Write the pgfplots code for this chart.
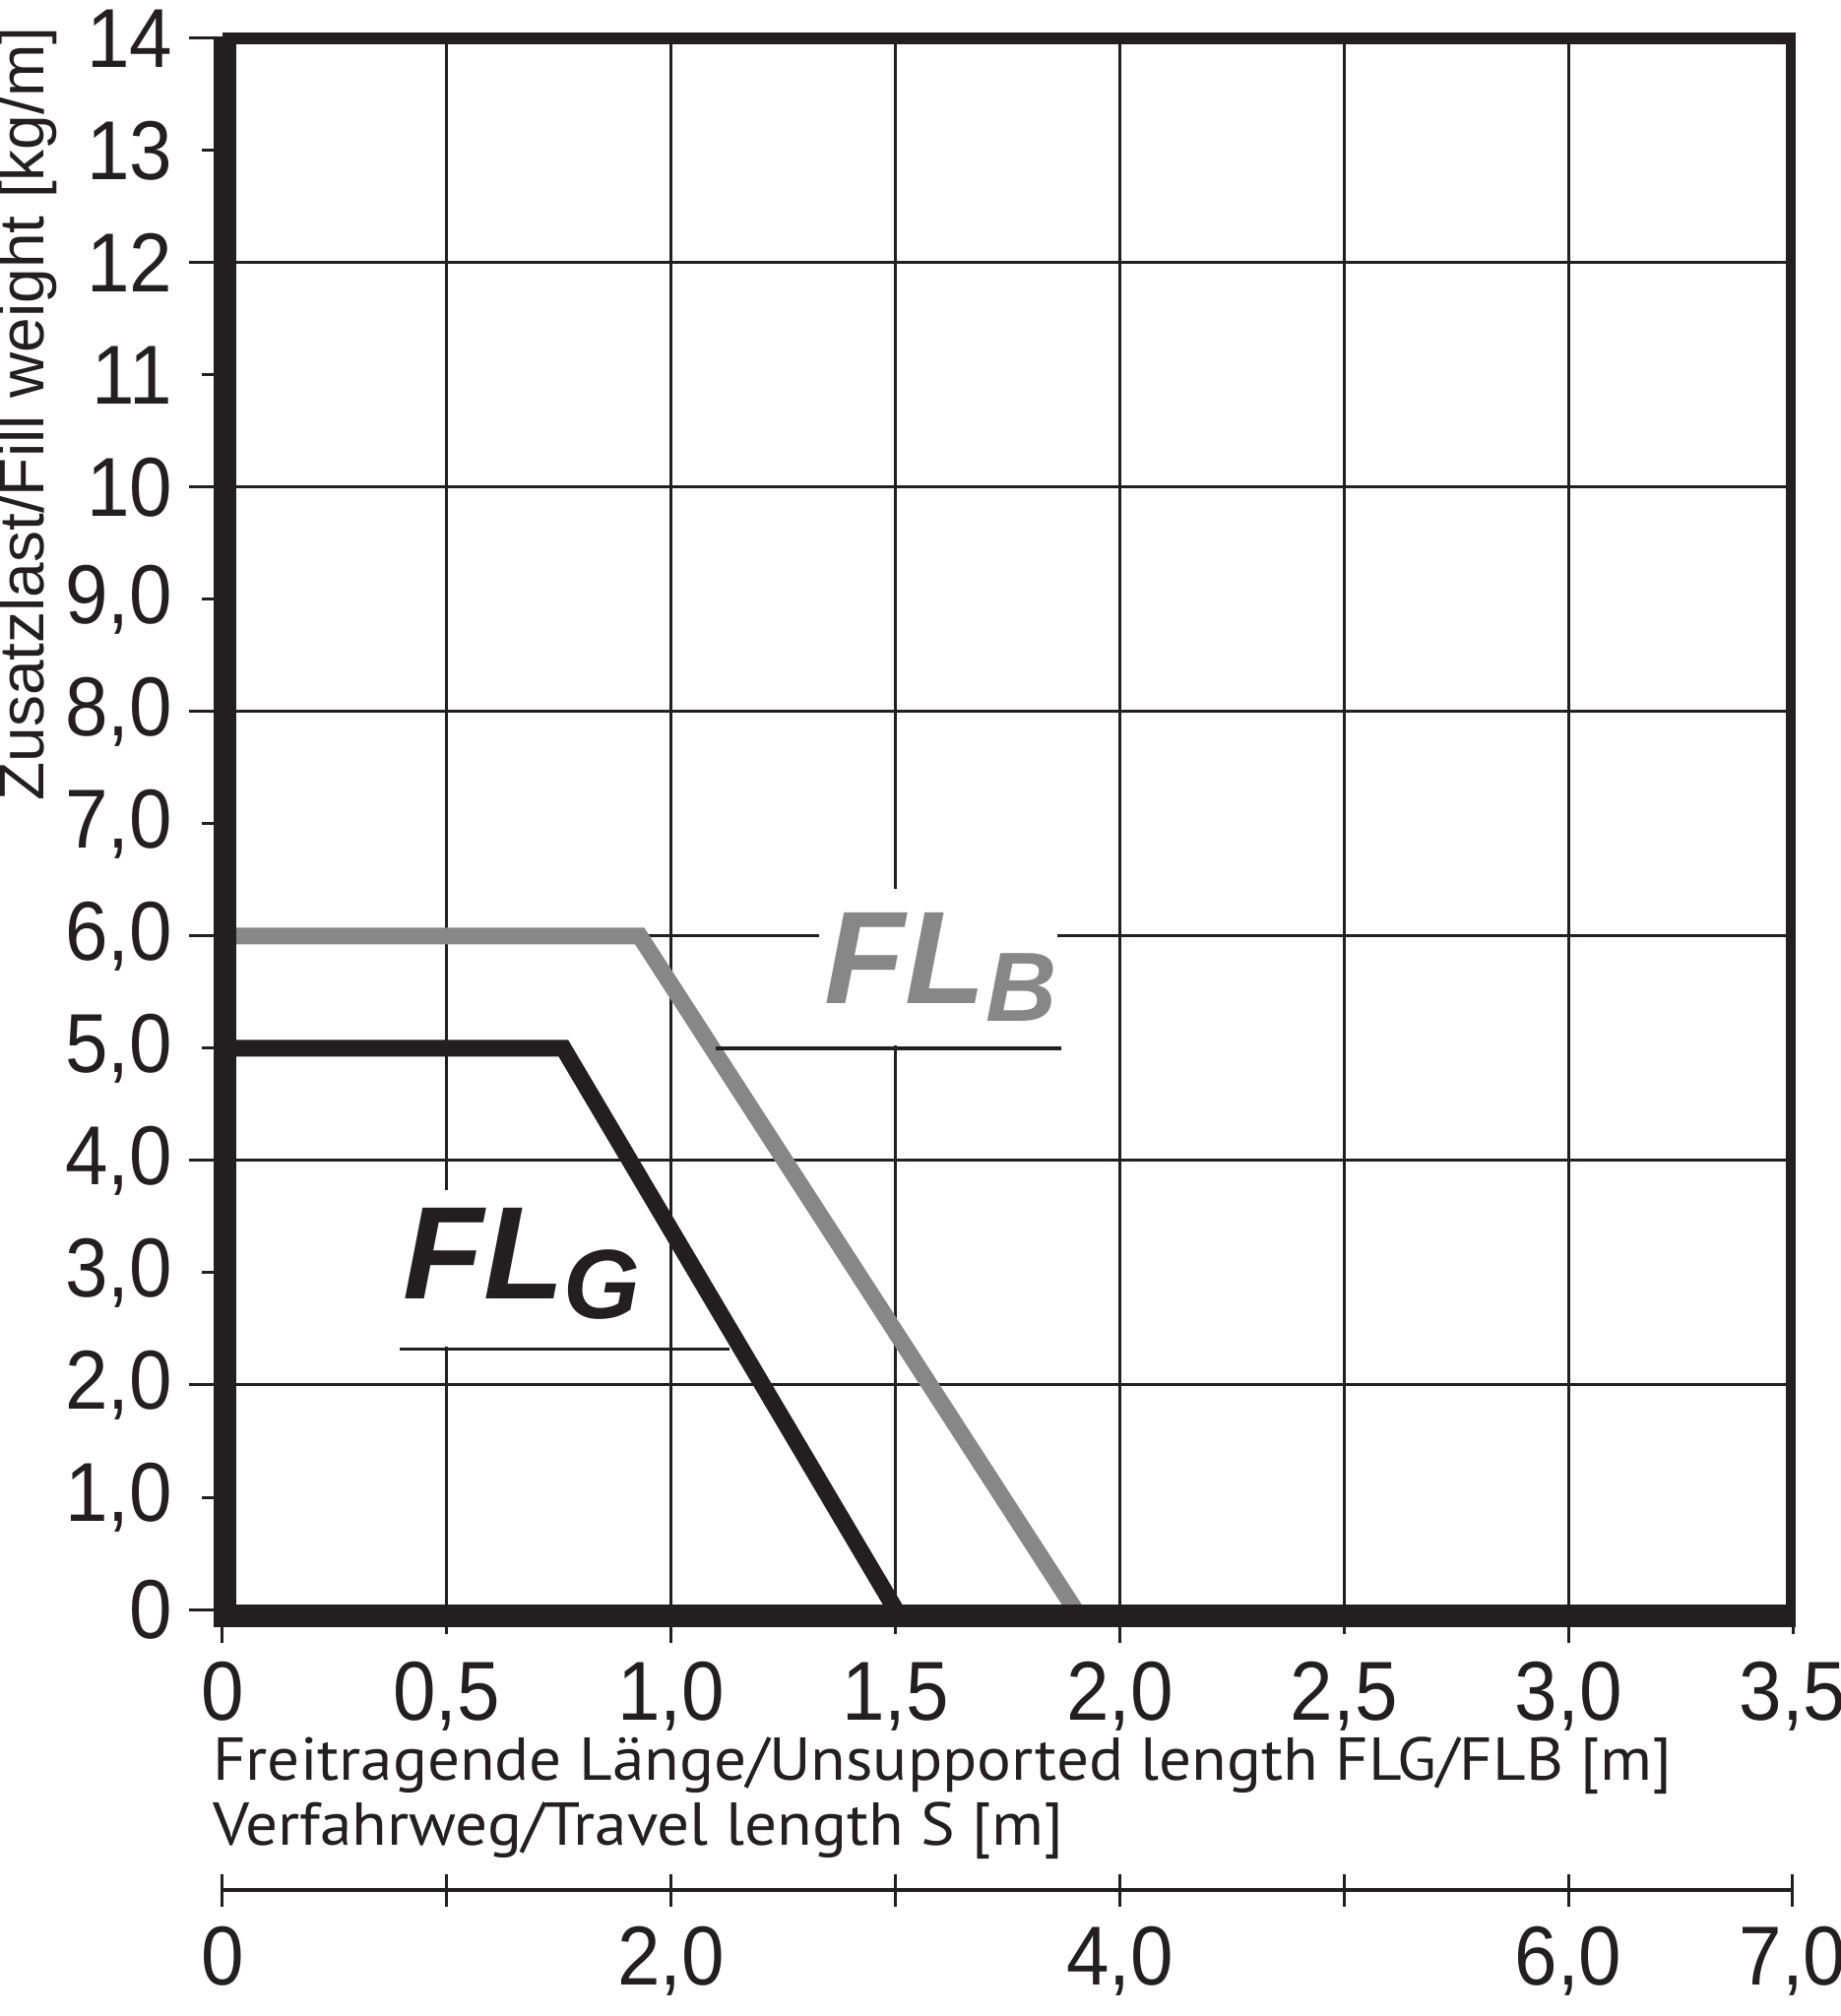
\documentclass[border=0pt]{standalone}
\usepackage{fontspec}
\setmainfont{Liberation Sans}
\newfontfamily\tickfont{Liberation Sans}[FakeStretch=0.92]
\newfontfamily\xlabfont{PT Sans}[FakeStretch=1.06]
\newfontfamily\flfont{Liberation Sans}
\usepackage{pgfplots}
\pgfplotsset{compat=1.18}
\definecolor{ink}{RGB}{35,31,32}
\definecolor{flgray}{RGB}{135,135,135}

\begin{document}
\begin{tikzpicture}
\begin{axis}[
  name=main,
  scale only axis, width=319pt, height=319.2pt,
  xmin=0, xmax=3.5, ymin=0, ymax=14,
  clip=false,
  axis line style={draw=none},
  tick pos=left, tick align=inside,
  major tick length=-6.8pt,
  tick style={line width=0.6pt, color=ink},
  grid=major, major grid style={line width=0.6pt, color=ink},
  xtick={0,1,2,3}, xticklabels={0,1{,}0,2{,}0,3{,}0},
  extra x ticks={0.5,1.5,2.5,3.5},
  extra x tick labels={0{,}5,1{,}5,2{,}5,3{,}5},
  extra x tick style={grid=major, major tick length=-5pt},
  ytick={0,2,...,14}, yticklabels={0,2{,}0,4{,}0,6{,}0,8{,}0,10,12,14},
  extra y ticks={1,3,...,13},
  extra y tick labels={1{,}0,3{,}0,5{,}0,7{,}0,9{,}0,11,13},
  extra y tick style={grid=none, major tick length=-4.2pt},
  /pgf/number format/assume math mode=true,
  ticklabel style={font=\tickfont\fontsize{17}{20}\selectfont, text=ink, inner sep=0pt},
  xticklabel style={anchor=base, yshift=-22.4pt},
  yticklabel style={anchor=east, xshift=-10pt},
]
% white boxes behind the curve names
\fill[white] (axis cs:1.33,5.03) rectangle (axis cs:1.86,6.42);
\fill[white] (axis cs:0.39,2.34) rectangle (axis cs:0.95,3.74);

\addplot[flgray, line width=3.4pt, line join=miter] coordinates {(0,6.0) (0.93,6.0) (1.90,0)};
\addplot[ink, line width=3.4pt, line join=miter] coordinates {(0,5.0) (0.76,5.0) (1.50,0)};

% frame
\fill[ink] (axis cs:-0.02,-0.158) rectangle (axis cs:0.031,14.0);
\fill[ink] (axis cs:0,13.95) rectangle (axis cs:3.507,14.05);
\fill[ink] (axis cs:3.485,-0.158) rectangle (axis cs:3.507,14.05);
\fill[ink] (axis cs:-0.02,-0.158) rectangle (axis cs:3.507,0.044);

% curve names
\draw[ink, line width=0.7pt] (axis cs:1.10,5.0) -- (axis cs:1.87,5.0);
\draw[ink, line width=0.7pt] (axis cs:0.395,2.32) -- (axis cs:1.13,2.32);
\node[anchor=base west, inner sep=0, text=flgray, font=\flfont\bfseries\itshape\fontsize{26.8}{30}\selectfont]
  at (axis cs:1.34,5.40) {FL\raisebox{-3.6pt}{\fontsize{20}{22}\selectfont B}};
\node[anchor=base west, inner sep=0, text=ink, font=\flfont\bfseries\itshape\fontsize{26.8}{30}\selectfont]
  at (axis cs:0.40,2.77) {FL\raisebox{-4pt}{\fontsize{20}{22}\selectfont G}};

% axis titles
\node[anchor=base west, inner sep=0, text=ink, font=\xlabfont\fontsize{12.3}{14}\selectfont]
  at (axis cs:-0.024,-1.526) {Freitragende Länge/Unsupported length FLG/FLB [m]};
\node[anchor=base west, inner sep=0, text=ink, font=\xlabfont\fontsize{12.3}{14}\selectfont]
  at (axis cs:-0.024,-2.10) {Verfahrweg/Travel length S [m]};
\node[rotate=90, anchor=east, inner sep=0, text=ink, font=\fontsize{12.8}{14}\selectfont]
  at (axis cs:-0.435,14.11) {Zusatzlast/Fill weight [kg/m]};
\end{axis}

% travel length scale S = 2 x FL
\begin{axis}[
  at={(main.south west)}, anchor=south west, yshift=-57pt,
  scale only axis, width=319pt, height=10pt,
  xmin=0, xmax=7, ymin=0, ymax=1,
  axis x line=bottom, axis y line=none,
  x axis line style={-, line width=0.8pt, ink},
  ytick=\empty,
  xtick={0,...,7}, xticklabels={0,,2{,}0,,4{,}0,,6{,}0,7{,}0},
  tick align=center, major tick length=6.6pt,
  tick style={line width=0.6pt, color=ink},
  /pgf/number format/assume math mode=true,
  xticklabel style={font=\tickfont\fontsize{17}{20}\selectfont, text=ink, inner sep=0pt, anchor=base, yshift=-16pt},
]
\end{axis}

\pgfresetboundingbox
\path[use as bounding box] ([shift={(-45.2pt,-82.6pt)}]main.south west) rectangle ([shift={(328.8pt,327pt)}]main.south west);
\end{tikzpicture}
\end{document}
